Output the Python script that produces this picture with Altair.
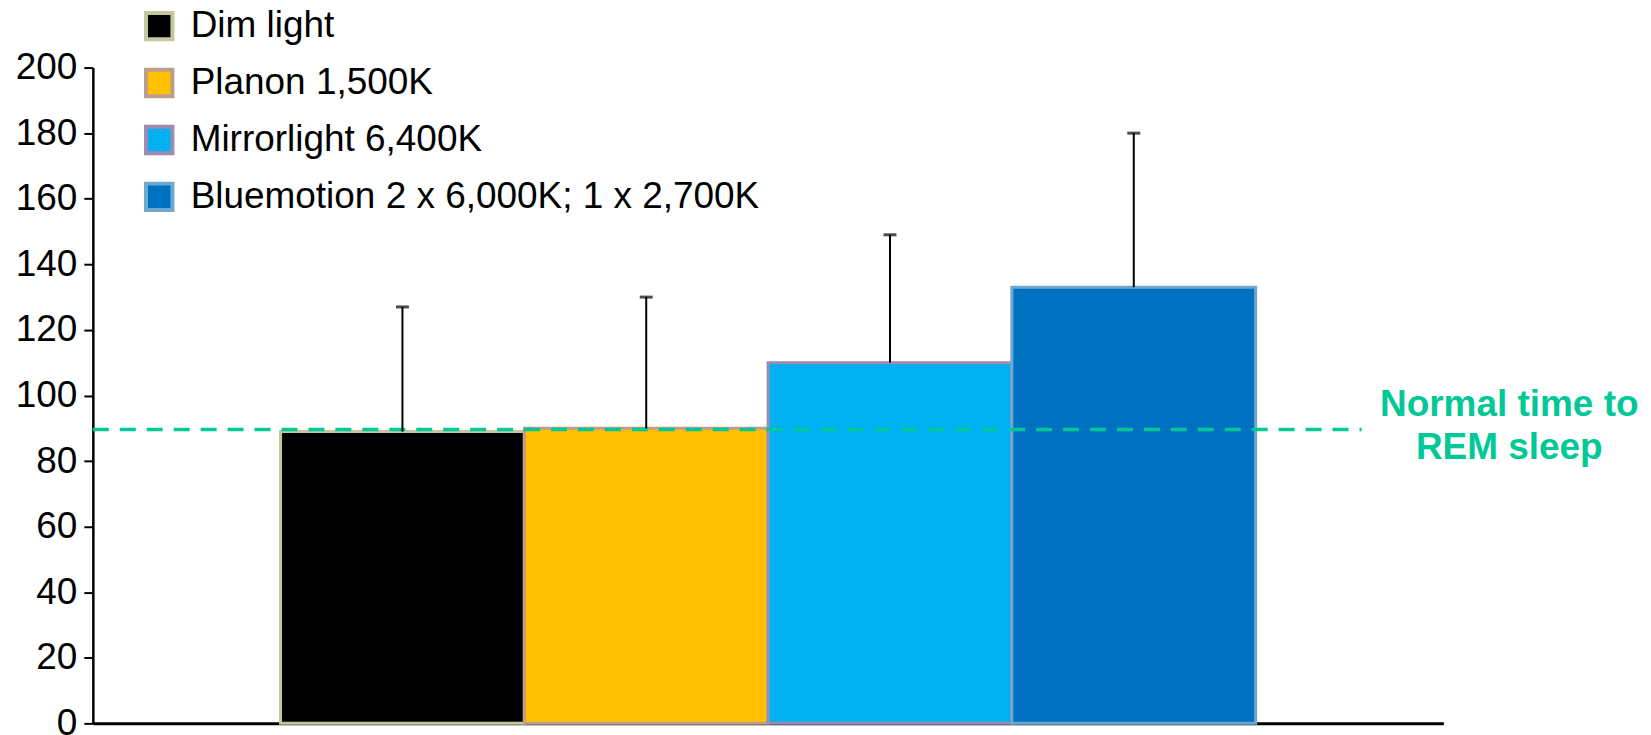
import altair as alt
import pandas as pd

series = ["Dim light", "Planon 1,500K", "Mirrorlight 6,400K", "Bluemotion 2 x 6,000K; 1 x 2,700K"]
means = [89, 90, 110, 133]
upper = [127, 130, 149, 180]
fills = ["#000000", "#FFC000", "#00B0F0", "#0070C0"]
strokes = ["#C4C89C", "#BD9E8C", "#9C8BB3", "#6DA8CE"]
y_ticks = list(range(0, 201, 20))
normal_value = [89.6]
normal_label = ["Normal time to", "REM sleep"]

GREEN = "#00C896"
FONT = "Liberation Sans"
W, H = 1353, 657

df = pd.DataFrame({"series": series, "mean": means, "upper": upper})
ndf = pd.DataFrame({"v": normal_value})

y_scale = alt.Scale(domain=[0, 200], nice=False)
y_axis = alt.Axis(values=y_ticks, title=None, grid=False, domainColor="black", domainWidth=2.5,
                  tickColor="black", tickWidth=2, tickSize=9, labelPadding=7, labelFontSize=37,
                  labelFont=FONT, labelColor="black")
x_enc = alt.X("series:N", sort=series, scale=alt.Scale(paddingInner=0, paddingOuter=0.77),
              axis=alt.Axis(labels=False, ticks=False, title=None, domainColor="black", domainWidth=3))

legend = alt.Legend(title=None)

bars = alt.Chart(df).mark_bar(strokeWidth=3).encode(
    x=x_enc,
    y=alt.Y("mean:Q", scale=y_scale, axis=y_axis),
    fill=alt.Fill("series:N", sort=series, scale=alt.Scale(domain=series, range=fills), legend=legend),
    stroke=alt.Stroke("series:N", sort=series, scale=alt.Scale(domain=series, range=strokes), legend=legend),
)

err = alt.Chart(df).mark_rule(color="black", strokeWidth=2).encode(
    x=x_enc,
    y=alt.Y("mean:Q", scale=y_scale, axis=y_axis),
    y2="upper:Q",
)

caps = alt.Chart(df).mark_tick(color="black", thickness=3, size=13).encode(
    x=x_enc,
    y=alt.Y("upper:Q", scale=y_scale, axis=y_axis),
)

normal = alt.Chart(ndf).mark_rule(color=GREEN, strokeWidth=3.5, strokeDash=[16, 11]).encode(
    y=alt.Y("v:Q", scale=y_scale, axis=y_axis),
    x=alt.value(0),
    x2=alt.value(1271),
)

label = alt.Chart(ndf).mark_text(
    text=normal_label, font=FONT, fontSize=37, fontWeight="bold", color=GREEN,
    align="center", baseline="middle", lineHeight=44, dy=-25,
).encode(
    y=alt.Y("v:Q", scale=y_scale, axis=y_axis),
    x=alt.value(1419),
)

chart = alt.layer(bars, normal, err, caps, label).properties(
    width=W, height=H,
    autosize=alt.AutoSizeParams(type="none"),
    padding={"left": 85, "top": 59, "right": 200, "bottom": 20},
).configure_view(stroke=None).configure_legend(
    orient="none", legendX=48, legendY=-60, padding=0,
    symbolType="square", symbolSize=700, symbolStrokeWidth=4, symbolOpacity=1,
    labelFont=FONT, labelFontSize=37, labelColor="black", labelLimit=900, labelOffset=13,
    rowPadding=14,
)

chart.save("out.html", embed_options={"renderer": "svg", "actions": False})
